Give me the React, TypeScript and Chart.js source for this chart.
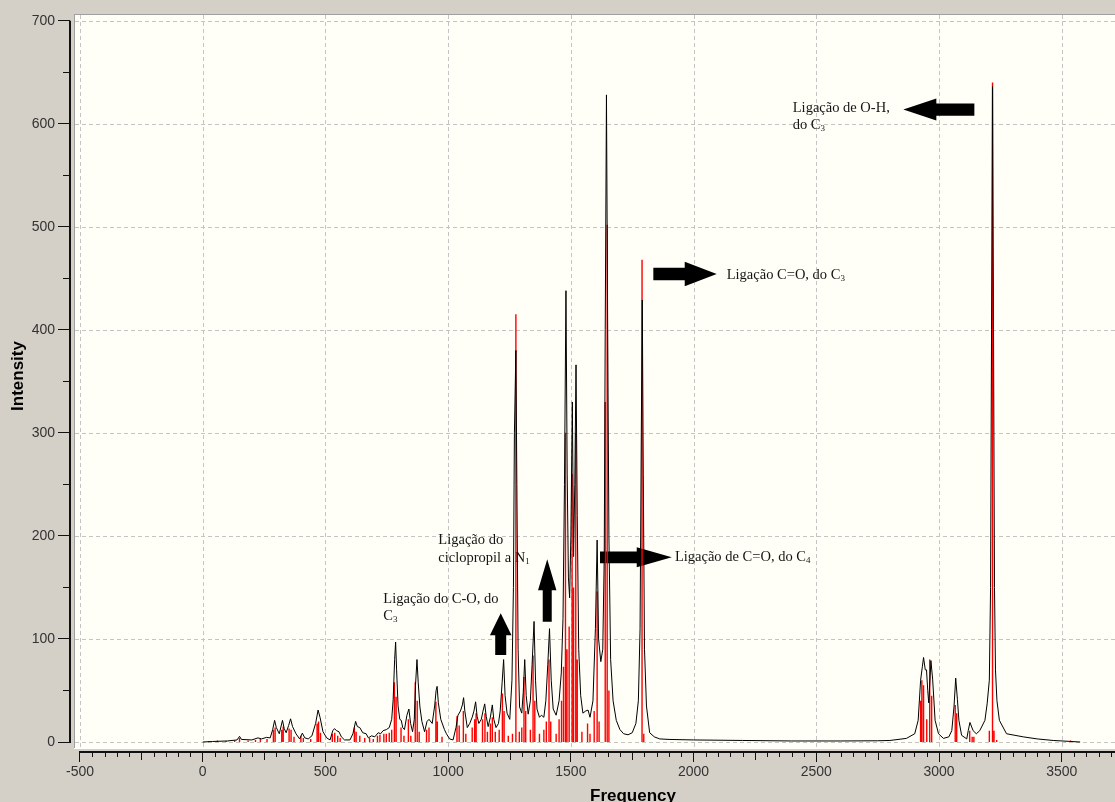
import { useEffect, useRef } from "react";
import { Chart, registerables } from "chart.js";

Chart.register(...registerables);

// ---------- data ----------
const X_TICKS = [-500, 0, 500, 1000, 1500, 2000, 2500, 3000, 3500];
const Y_TICKS = [0, 100, 200, 300, 400, 500, 600, 700];

// broadened spectrum (black line)
const SPECTRUM_FREQ = [
  0, 40, 100, 140, 150, 158, 200, 225, 240, 260, 275, 285, 293, 300, 312, 325, 332, 340, 350, 358,
  366, 380, 395, 406, 416, 430, 445, 460, 470, 478, 490, 505, 519, 530, 537, 545, 555, 565, 578, 600,
  612, 623, 630, 640, 652, 666, 675, 688, 701, 715, 725, 735, 748, 760, 770, 776, 782, 786, 790, 796,
  803, 809, 815, 822, 832, 840, 847, 855, 862, 867, 873, 878, 885, 893, 904, 914, 922, 935, 945, 951,
  955, 960, 970, 985, 993, 1006, 1020, 1032, 1040, 1050, 1058, 1063, 1068, 1078, 1088, 1098, 1105, 1112, 1118, 1125,
  1135, 1142, 1149, 1155, 1163, 1172, 1180, 1186, 1195, 1205, 1212, 1220, 1226, 1232, 1240, 1251, 1260, 1266, 1270, 1276,
  1280, 1285, 1291, 1300, 1306, 1312, 1318, 1326, 1335, 1342, 1350, 1356, 1362, 1372, 1380, 1390, 1398, 1406, 1413, 1420,
  1428, 1440, 1452, 1461, 1468, 1474, 1480, 1485, 1490, 1495, 1500, 1506, 1511, 1516, 1521, 1526, 1532, 1540, 1549, 1560,
  1570, 1578, 1590, 1600, 1607, 1613, 1622, 1630, 1636, 1640, 1645, 1650, 1655, 1662, 1672, 1685, 1700, 1715, 1733, 1750,
  1765, 1775, 1782, 1787, 1791, 1795, 1800, 1808, 1821, 1840, 1862, 1900, 2000, 2200, 2400, 2600, 2750, 2800, 2867, 2901,
  2915, 2925, 2932, 2937, 2944, 2949, 2954, 2958, 2963, 2967, 2974, 2984, 2998, 3018, 3040, 3052, 3061, 3068, 3075, 3081,
  3092, 3113, 3119, 3126, 3139, 3152, 3166, 3187, 3196, 3205, 3210, 3214, 3218, 3222, 3226, 3230, 3236, 3246, 3275, 3343,
  3400, 3465, 3575,
];
const SPECTRUM_INT = [
  0, 0.5, 1, 2, 5.5, 2.5, 2, 4, 3, 4.5, 4, 12, 21, 14, 8, 21, 13, 9, 16, 22.5,
  15, 8, 3, 8.6, 4, 3, 6, 18, 31, 24, 10, 4, 2, 11, 13, 11, 10, 5, 2, 2,
  8, 20, 15, 14, 9, 8, 4, 6, 5, 9, 8, 11, 12, 14, 22, 41, 80, 97, 70, 35,
  22, 21, 14, 12, 26, 32, 18, 10, 22, 55, 80, 58, 34, 20, 10, 20, 22, 18, 35, 50,
  54, 38, 22, 12, 8, 3, 2, 14, 26, 30, 36, 43, 30, 14, 18, 24, 30, 39, 25, 18,
  22, 30, 37, 25, 15, 24, 36, 22, 14, 18, 30, 58, 80, 45, 28, 22, 60, 150, 300, 380,
  250, 90, 34, 28, 48, 80, 45, 27, 40, 75, 117, 60, 32, 24, 26, 24, 40, 75, 110, 60,
  32, 26, 40, 67, 120, 250, 438, 260, 160, 140, 200, 330, 180, 250, 366, 220, 90, 45, 28, 30,
  31, 24, 40, 110, 196, 100, 78, 90, 180, 400, 628, 400, 200, 80, 40, 21, 12, 8, 7, 9,
  18, 40, 110, 300, 429, 260, 90, 35, 9, 5, 3, 2.5, 2, 1.5, 1, 1, 1.2, 1.5, 3.5, 8,
  21, 60, 73, 82, 70, 70, 50, 38, 60, 79, 61, 21, 8, 3.5, 5, 11, 34, 62, 41, 21,
  6.5, 3, 11, 19, 11, 8, 11, 21, 37, 60, 150, 400, 636, 400, 150, 70, 40, 21, 8, 5,
  3, 1.5, 0,
];

// individual modes (red sticks)
const STICK_FREQ = [
  25, 60, 95, 130, 150, 185, 215, 235, 262, 288, 295, 322, 328, 352, 360, 372, 400, 410, 440, 466,
  472, 480, 528, 538, 550, 560, 618, 625, 640, 660, 680, 695, 712, 722, 738, 748, 760, 770, 781, 788,
  808, 820, 838, 848, 866, 874, 882, 912, 922, 950, 956, 975, 1036, 1045, 1062, 1072, 1098, 1108, 1114, 1140,
  1150, 1160, 1172, 1180, 1192, 1208, 1221, 1228, 1245, 1262, 1276, 1290, 1300, 1309, 1316, 1335, 1346, 1353, 1372, 1390,
  1400, 1411, 1418, 1440, 1452, 1462, 1470, 1478, 1484, 1493, 1505, 1511, 1520, 1526, 1545, 1568, 1578, 1595, 1607, 1615,
  1640, 1648, 1655, 1790, 1797, 2925, 2930, 2937, 2950, 2962, 2970, 3066, 3072, 3125, 3135, 3142, 3205, 3218, 3224, 3235,
  3536,
];
const STICK_INT = [
  1, 1.5, 1, 1.5, 4, 1.5, 2, 3, 3, 12, 14, 12, 15, 13, 12, 5, 6, 4, 3, 18,
  20, 9, 8, 9, 6, 4, 14, 10, 6, 4, 4, 3, 6, 7, 8, 8, 9, 12, 58, 44,
  14, 6, 22, 6, 58, 40, 10, 12, 14, 39, 20, 5, 25, 16, 30, 8, 14, 22, 28, 22,
  28, 10, 18, 24, 10, 12, 47, 30, 6, 8, 415, 10, 14, 63, 30, 12, 84, 40, 8, 12,
  20, 80, 20, 8, 22, 40, 73, 300, 90, 112, 260, 150, 300, 80, 10, 18, 8, 30, 146, 20,
  330, 502, 50, 468, 8, 40, 60, 55, 22, 80, 45, 36, 28, 11, 5, 5, 11, 640, 11, 2,
  1.5,
];

// annotations (anchored in data coordinates)
const NOTE_LINES = [
  { f: 2404, i: [611.3, 594.5], lines: ["Ligação de O-H,", "do C_3"] },
  { f: 2135, i: [449.4], lines: ["Ligação C=O, do C_3"] },
  { f: 1924, i: [176], lines: ["Ligação de C=O, do C_4"] },
  { f: 960, i: [192.2, 174.4], lines: ["Ligação do", "ciclopropil a N_1"] },
  { f: 736, i: [134.6, 118.4], lines: ["Ligação do C-O, do", "C_3"] },
];
const ARROWS = [
  { tail: [3144, 613.7], tip: [2854.6, 613.7], head: 33, headHalf: 11, shaftHalf: 6.2 },
  { tail: [1836, 454.2], tip: [2094.3, 454.2], head: 32, headHalf: 12.2, shaftHalf: 6.2 },
  { tail: [1618.8, 179.2], tip: [1911, 179.2], head: 35, headHalf: 10, shaftHalf: 5.8 },
  { tail: [1403.7, 116.7], tip: [1403.7, 177.3], head: 31, headHalf: 9.2, shaftHalf: 4.5 },
  { tail: [1214.2, 84.4], tip: [1214.2, 124.9], head: 22, headHalf: 10.8, shaftHalf: 5.5 },
];

const SANS = '"Liberation Sans", Arial, sans-serif';
const SERIF = '"Liberation Serif", "Times New Roman", serif';

function drawRich(ctx: CanvasRenderingContext2D, text: string, x: number, y: number, size: number) {
  const parts = text.split(/_(\d)/);
  let cx = x;
  parts.forEach((p, k) => {
    if (!p) return;
    if (k % 2 === 1) {
      ctx.font = `${(size * 0.62).toFixed(1)}px ${SERIF}`;
      ctx.fillText(p, cx, y + size * 0.14);
    } else {
      ctx.font = `${size}px ${SERIF}`;
      ctx.fillText(p, cx, y);
    }
    cx += ctx.measureText(p).width;
  });
}

const chartPlugin = {
  id: "spectrumDecor",
  beforeDraw(chart: any) {
    const { ctx, width, height, chartArea } = chart;
    ctx.save();
    ctx.fillStyle = "#d4d0c8";
    ctx.fillRect(0, 0, width, height);
    const l = chartArea.left + 4;
    const t = chartArea.top;
    const r = chartArea.right;
    const b = chartArea.bottom - 3;
    ctx.fillStyle = "#fffff7";
    ctx.fillRect(l, t, r - l, b - t);
    ctx.fillStyle = "#a0a0a0";
    ctx.fillRect(l, t, r - l, 1);
    ctx.fillRect(l, t, 1, b - t);
    ctx.fillStyle = "#ffffff";
    ctx.fillRect(l, b - 1, r - l, 1);
    ctx.restore();
  },
  beforeDatasetsDraw(chart: any) {
    const { ctx, chartArea, scales } = chart;
    const xs = scales.x;
    const ys = scales.y;
    const l = chartArea.left + 5;
    const t = chartArea.top + 1;
    const r = chartArea.right;
    const b = chartArea.bottom - 4;
    ctx.save();
    ctx.strokeStyle = "#c4c4c4";
    ctx.lineWidth = 1;
    ctx.setLineDash([4, 3]);
    X_TICKS.forEach((v) => {
      const px = Math.round(xs.getPixelForValue(v)) + 0.5;
      ctx.beginPath();
      ctx.moveTo(px, t);
      ctx.lineTo(px, b);
      ctx.stroke();
    });
    Y_TICKS.forEach((v) => {
      const py = Math.round(ys.getPixelForValue(v)) + 0.5;
      ctx.beginPath();
      ctx.moveTo(l, py);
      ctx.lineTo(r, py);
      ctx.stroke();
    });
    ctx.setLineDash([]);

    // annotations
    ctx.fillStyle = "#151515";
    ctx.textBaseline = "alphabetic";
    ctx.textAlign = "left";
    NOTE_LINES.forEach((n) => {
      const x = xs.getPixelForValue(n.f);
      n.lines.forEach((line, k) => {
        drawRich(ctx, line, x, ys.getPixelForValue(n.i[k]), 14.5);
      });
    });
    ctx.fillStyle = "#000";
    ARROWS.forEach((a) => {
      const x0 = xs.getPixelForValue(a.tail[0]);
      const y0 = ys.getPixelForValue(a.tail[1]);
      const x1 = xs.getPixelForValue(a.tip[0]);
      const y1 = ys.getPixelForValue(a.tip[1]);
      const len = Math.hypot(x1 - x0, y1 - y0);
      const dx = (x1 - x0) / len;
      const dy = (y1 - y0) / len;
      const nx = -dy;
      const ny = dx;
      const hx = x1 - dx * a.head;
      const hy = y1 - dy * a.head;
      ctx.beginPath();
      ctx.moveTo(x0 + nx * a.shaftHalf, y0 + ny * a.shaftHalf);
      ctx.lineTo(hx + nx * a.shaftHalf, hy + ny * a.shaftHalf);
      ctx.lineTo(hx + nx * a.headHalf, hy + ny * a.headHalf);
      ctx.lineTo(x1, y1);
      ctx.lineTo(hx - nx * a.headHalf, hy - ny * a.headHalf);
      ctx.lineTo(hx - nx * a.shaftHalf, hy - ny * a.shaftHalf);
      ctx.lineTo(x0 - nx * a.shaftHalf, y0 - ny * a.shaftHalf);
      ctx.closePath();
      ctx.fill();
    });
    ctx.restore();
  },
  afterDraw(chart: any) {
    const { ctx, chartArea, scales } = chart;
    const xs = scales.x;
    const ys = scales.y;
    ctx.save();
    ctx.strokeStyle = "#111";
    ctx.lineWidth = 2;
    // y axis line
    const ax = chartArea.left;
    ctx.beginPath();
    ctx.moveTo(ax, ys.getPixelForValue(700));
    ctx.lineTo(ax, ys.getPixelForValue(0) + 1);
    ctx.stroke();
    // x axis line
    const ay = chartArea.bottom;
    ctx.beginPath();
    ctx.moveTo(xs.getPixelForValue(-500) - 1, ay);
    ctx.lineTo(chartArea.right, ay);
    ctx.stroke();
    // minor ticks
    ctx.lineWidth = 1;
    for (let v = -500; v <= 3700; v += 50) {
      if (v % 500 === 0) continue;
      const len = v % 250 === 0 ? 8 : 5;
      const px = Math.round(xs.getPixelForValue(v)) + 0.5;
      ctx.beginPath();
      ctx.moveTo(px, ay);
      ctx.lineTo(px, ay + len);
      ctx.stroke();
    }
    for (let v = 50; v < 700; v += 100) {
      const py = Math.round(ys.getPixelForValue(v)) + 0.5;
      ctx.beginPath();
      ctx.moveTo(ax, py);
      ctx.lineTo(ax - 7, py);
      ctx.stroke();
    }
    // axis titles
    ctx.fillStyle = "#000";
    ctx.font = `bold 17px ${SANS}`;
    ctx.textAlign = "center";
    ctx.textBaseline = "alphabetic";
    ctx.fillText("Frequency", 633, 801);
    ctx.translate(23, 376);
    ctx.rotate(-Math.PI / 2);
    ctx.textBaseline = "alphabetic";
    ctx.fillText("Intensity", 0, 0);
    ctx.restore();
  },
};

export default function App() {
  const ref = useRef<HTMLCanvasElement | null>(null);
  useEffect(() => {
    if (!ref.current) return;
    const spectrum = SPECTRUM_FREQ.map((f, k) => ({ x: f, y: SPECTRUM_INT[k] }));
    const sticks: { x: number; y: number | null }[] = [];
    STICK_FREQ.forEach((f, k) => {
      sticks.push({ x: f, y: 0 });
      sticks.push({ x: f, y: STICK_INT[k] });
      sticks.push({ x: f, y: null });
    });
    const tickFont = { family: SANS, size: 14 };
    const chart = new Chart(ref.current, {
      type: "line",
      data: {
        datasets: [
          {
            label: "Spectrum",
            data: spectrum,
            borderColor: "#000000",
            borderWidth: 1,
            pointRadius: 0,
            tension: 0,
            order: 0,
          },
          {
            label: "Modes",
            data: sticks as any,
            borderColor: "#ff0000",
            borderWidth: 1.4,
            pointRadius: 0,
            tension: 0,
            spanGaps: false,
            order: 1,
          },
        ],
      },
      options: {
        animation: false,
        responsive: false,
        maintainAspectRatio: false,
        layout: { padding: { top: 14, left: 0, right: 0, bottom: 0 } },
        plugins: { legend: { display: false }, tooltip: { enabled: false } },
        scales: {
          x: {
            type: "linear",
            min: -540.7,
            max: 3717,
            afterBuildTicks: (axis: any) => {
              axis.ticks = X_TICKS.map((v) => ({ value: v }));
            },
            afterFit: (s: any) => {
              s.height = 50;
            },
            grid: { drawOnChartArea: false, drawTicks: true, tickLength: 10, tickColor: "#111", tickWidth: 1 },
            border: { display: false },
            ticks: {
              font: tickFont,
              color: "#333",
              padding: 2,
              maxRotation: 0,
              autoSkip: false,
              callback: (v: any) => String(v),
            },
          },
          y: {
            type: "linear",
            min: -9.7,
            max: 706.5,
            afterBuildTicks: (axis: any) => {
              axis.ticks = Y_TICKS.map((v) => ({ value: v }));
            },
            afterFit: (s: any) => {
              s.width = 70;
            },
            grid: { drawOnChartArea: false, drawTicks: true, tickLength: 12, tickColor: "#111", tickWidth: 1 },
            border: { display: false },
            ticks: { font: tickFont, color: "#333", padding: 3, autoSkip: false, callback: (v: any) => String(v) },
          },
        },
      },
      plugins: [chartPlugin],
    });
    return () => chart.destroy();
  }, []);
  return (
    <canvas
      ref={ref}
      width={1115}
      height={802}
      style={{ position: "absolute", left: 0, top: 0, display: "block" }}
    />
  );
}
